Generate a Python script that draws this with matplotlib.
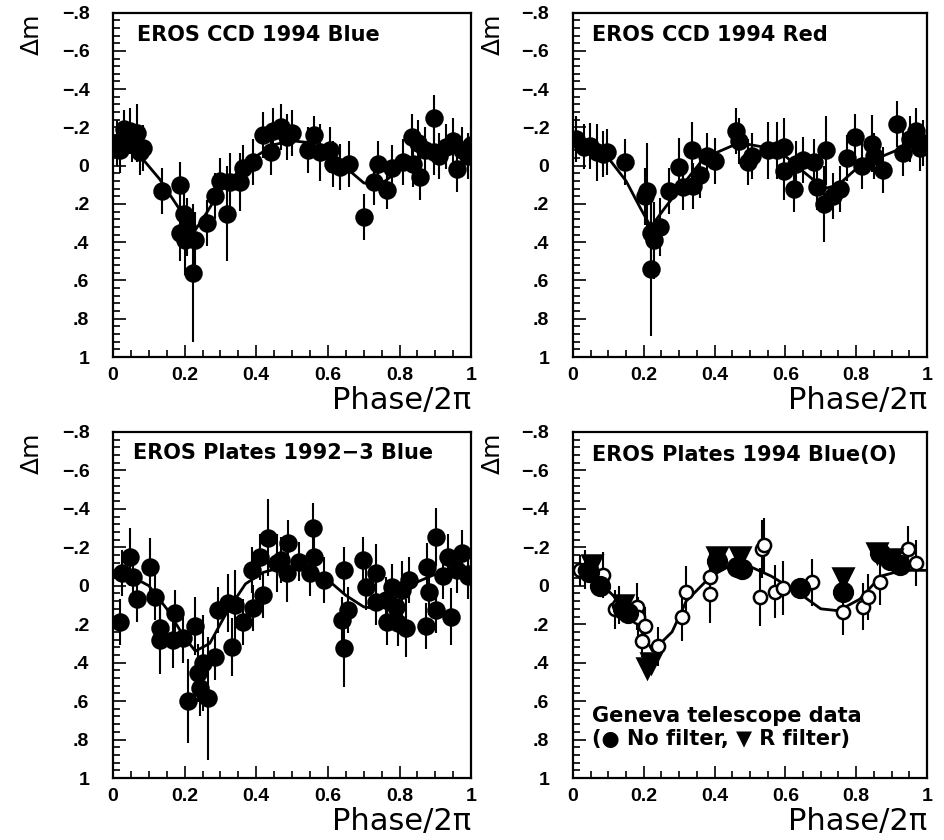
import matplotlib
matplotlib.use("Agg")
import matplotlib.pyplot as plt
from matplotlib.ticker import MultipleLocator, FixedLocator, FixedFormatter

# EROS CCD 1994 Blue: phase, delta-mag, error
ccd_blue_phase = [0.01, 0.02, 0.03, 0.047, 0.053, 0.067, 0.075, 0.085, 0.136, 0.187,
                  0.187, 0.197, 0.206, 0.20, 0.23, 0.224, 0.262, 0.285, 0.318, 0.30,
                  0.327, 0.355, 0.364, 0.392, 0.42, 0.44, 0.447, 0.47, 0.485, 0.50,
                  0.545, 0.56, 0.578, 0.606, 0.615, 0.634, 0.66, 0.70, 0.73, 0.74,
                  0.765, 0.78, 0.81, 0.835, 0.852, 0.838, 0.857, 0.87, 0.895, 0.895,
                  0.91, 0.93, 0.95, 0.96, 0.975, 0.99, 1.0]
ccd_blue_dm = [-0.12, -0.08, -0.19, -0.18, -0.12, -0.17, -0.07, -0.09, 0.13, 0.10,
               0.35, 0.25, 0.32, 0.39, 0.39, 0.56, 0.30, 0.16, 0.25, 0.08,
               0.085, 0.085, 0.01, -0.02, -0.16, -0.07, -0.18, -0.20, -0.15, -0.17,
               -0.08, -0.16, -0.07, -0.08, -0.01, 0.005, -0.01, 0.27, 0.085, -0.01,
               0.125, 0.01, -0.02, -0.15, -0.12, -0.01, 0.06, -0.08, -0.25, -0.07,
               -0.05, -0.10, -0.13, 0.02, -0.08, -0.05, -0.11]
ccd_blue_err = [0.12, 0.12, 0.10, 0.12, 0.10, 0.15, 0.12, 0.12, 0.12, 0.12,
                0.15, 0.15, 0.15, 0.18, 0.15, 0.36, 0.12, 0.12, 0.25, 0.12,
                0.15, 0.15, 0.12, 0.12, 0.12, 0.12, 0.12, 0.12, 0.12, 0.12,
                0.12, 0.10, 0.15, 0.12, 0.12, 0.12, 0.12, 0.12, 0.12, 0.12,
                0.10, 0.12, 0.12, 0.12, 0.12, 0.12, 0.12, 0.12, 0.12, 0.12,
                0.12, 0.12, 0.12, 0.12, 0.12, 0.12, 0.12]
ccd_blue_fit_phase = [0.0, 0.05, 0.085, 0.13, 0.19, 0.225, 0.26, 0.30, 0.35, 0.40, 0.45, 0.50,
                      0.55, 0.60, 0.65, 0.70, 0.73, 0.76, 0.80, 0.85, 0.90, 0.95, 1.0]
ccd_blue_fit_dm = [-0.10, -0.07, -0.03, 0.07, 0.24, 0.35, 0.25, 0.13, 0.03, -0.05, -0.11, -0.13,
                   -0.12, -0.06, 0.01, 0.09, 0.10, 0.08, 0.02, -0.04, -0.08, -0.10, -0.11]

# EROS CCD 1994 Red
ccd_red_phase = [0.01, 0.03, 0.048, 0.067, 0.085, 0.095, 0.146, 0.203, 0.21, 0.22,
                 0.23, 0.245, 0.22, 0.27, 0.30, 0.31, 0.335, 0.34, 0.36, 0.38,
                 0.40, 0.46, 0.47, 0.495, 0.505, 0.55, 0.575, 0.595, 0.595, 0.625,
                 0.63, 0.65, 0.68, 0.69, 0.716, 0.71, 0.735, 0.754, 0.773, 0.797,
                 0.816, 0.845, 0.85, 0.876, 0.915, 0.933, 0.952, 0.97, 0.98, 0.99]
ccd_red_dm = [-0.14, -0.10, -0.105, -0.07, -0.06, -0.07, -0.02, 0.16, 0.13, 0.35,
              0.39, 0.32, 0.54, 0.13, 0.005, 0.11, -0.08, 0.105, 0.05, -0.05,
              -0.025, -0.18, -0.13, -0.02, -0.05, -0.08, -0.08, -0.10, 0.03, 0.12,
              -0.01, -0.03, -0.02, 0.11, -0.08, 0.20, 0.16, 0.12, -0.04, -0.15,
              0.0, -0.115, -0.05, 0.025, -0.22, -0.065, -0.14, -0.18, -0.09, -0.12]
ccd_red_err = [0.12, 0.12, 0.12, 0.15, 0.12, 0.12, 0.12, 0.15, 0.25, 0.18,
               0.20, 0.15, 0.35, 0.12, 0.15, 0.12, 0.15, 0.12, 0.12, 0.12,
               0.12, 0.12, 0.12, 0.12, 0.12, 0.15, 0.15, 0.15, 0.15, 0.12,
               0.12, 0.12, 0.12, 0.12, 0.18, 0.20, 0.12, 0.12, 0.12, 0.12,
               0.12, 0.15, 0.12, 0.12, 0.12, 0.12, 0.12, 0.12, 0.12, 0.12]
ccd_red_fit_phase = [0.0, 0.05, 0.10, 0.15, 0.19, 0.22, 0.26, 0.31, 0.37, 0.42, 0.47, 0.53,
                     0.60, 0.65, 0.71, 0.75, 0.81, 0.875, 0.94, 1.0]
ccd_red_fit_dm = [-0.12, -0.09, -0.04, 0.08, 0.22, 0.32, 0.22, 0.10, -0.04, -0.08, -0.12, -0.10,
                  -0.05, 0.03, 0.12, 0.10, 0.0, -0.05, -0.10, -0.13]

# EROS Plates 1992-3 Blue
plates_old_phase = [0.02, 0.025, 0.047, 0.056, 0.066, 0.103, 0.117, 0.131, 0.131, 0.168,
                    0.173, 0.196, 0.21, 0.229, 0.237, 0.242, 0.251, 0.265, 0.284, 0.293,
                    0.321, 0.331, 0.34, 0.363, 0.387, 0.39, 0.41, 0.418, 0.432, 0.457,
                    0.47, 0.485, 0.488, 0.52, 0.549, 0.557, 0.562, 0.59, 0.638, 0.646,
                    0.646, 0.655, 0.697, 0.707, 0.735, 0.735, 0.763, 0.766, 0.78, 0.79,
                    0.795, 0.808, 0.818, 0.827, 0.874, 0.877, 0.883, 0.902, 0.902, 0.92,
                    0.935, 0.944, 0.96, 0.975, 0.99]
plates_old_dm = [0.19, -0.066, -0.15, -0.045, 0.07, -0.10, 0.06, 0.22, 0.28, 0.28,
                 0.14, 0.27, 0.60, 0.21, 0.455, 0.53, 0.40, 0.585, 0.37, 0.126,
                 0.09, 0.32, 0.10, 0.19, -0.08, 0.117, -0.15, 0.05, -0.25, -0.12,
                 -0.135, -0.066, -0.22, -0.125, -0.066, -0.30, -0.15, -0.03, 0.18, -0.08,
                 0.325, 0.126, -0.135, 0.006, -0.066, 0.085, 0.075, 0.19, 0.006, 0.11,
                 0.195, 0.022, 0.22, -0.03, 0.21, -0.10, 0.03, -0.255, 0.125, -0.05,
                 -0.15, 0.16, -0.08, -0.17, -0.05]
plates_old_err = [0.12, 0.12, 0.15, 0.12, 0.12, 0.15, 0.12, 0.12, 0.18, 0.15,
                  0.12, 0.13, 0.22, 0.15, 0.15, 0.15, 0.25, 0.32, 0.12, 0.12,
                  0.15, 0.15, 0.18, 0.12, 0.12, 0.12, 0.12, 0.12, 0.20, 0.15,
                  0.12, 0.15, 0.12, 0.10, 0.12, 0.13, 0.12, 0.12, 0.12, 0.12,
                  0.20, 0.12, 0.12, 0.12, 0.15, 0.12, 0.12, 0.12, 0.12, 0.12,
                  0.12, 0.15, 0.15, 0.12, 0.12, 0.12, 0.12, 0.15, 0.12, 0.12,
                  0.12, 0.15, 0.12, 0.12, 0.12]
plates_old_fit_phase = [0.0, 0.05, 0.10, 0.15, 0.20, 0.23, 0.27, 0.32, 0.37, 0.42, 0.48,
                        0.55, 0.60, 0.65, 0.70, 0.74, 0.79, 0.85, 0.90, 0.95, 1.0]
plates_old_fit_dm = [-0.06, -0.05, 0.0, 0.12, 0.27, 0.34, 0.30, 0.13, -0.01, -0.07, -0.10,
                     -0.09, -0.03, 0.05, 0.11, 0.12, 0.06, -0.02, -0.06, -0.09, -0.10]

# EROS Plates 1994 Blue (open) and Geneva telescope (filled)
plates_new_phase = [0.02, 0.034, 0.085, 0.119, 0.13, 0.18, 0.184, 0.195, 0.203, 0.24,
                    0.307, 0.32, 0.387, 0.387, 0.528, 0.534, 0.54, 0.57, 0.593, 0.675,
                    0.763, 0.82, 0.833, 0.867, 0.946, 0.97]
plates_new_dm = [-0.08, -0.084, -0.058, 0.123, 0.10, 0.108, 0.16, 0.29, 0.21, 0.315,
                 0.165, 0.035, 0.045, -0.048, 0.06, -0.19, -0.21, 0.03, 0.01, -0.017,
                 0.134, 0.108, 0.06, -0.022, -0.19, -0.12]
plates_new_err = [0.08, 0.10, 0.12, 0.10, 0.10, 0.12, 0.10, 0.08, 0.10, 0.10,
                  0.12, 0.14, 0.15, 0.14, 0.15, 0.15, 0.14, 0.14, 0.14, 0.12,
                  0.12, 0.12, 0.12, 0.12, 0.12, 0.12]
geneva_nf_phase = [0.045, 0.076, 0.14, 0.155, 0.407, 0.463, 0.477, 0.64, 0.763, 0.867, 0.895, 0.923]
geneva_nf_dm = [-0.07, 0.0, 0.12, 0.14, -0.13, -0.10, -0.085, 0.01, 0.03, -0.17, -0.135, -0.11]
geneva_nf_err = [0.05, 0.05, 0.05, 0.05, 0.05, 0.05, 0.05, 0.04, 0.04, 0.05, 0.05, 0.05]
geneva_r_phase = [0.053, 0.14, 0.21, 0.22, 0.407, 0.472, 0.763, 0.86, 0.90]
geneva_r_dm = [-0.11, 0.10, 0.43, 0.40, -0.15, -0.15, -0.04, -0.17, -0.14]
geneva_r_err = [0.04, 0.04, 0.05, 0.05, 0.05, 0.05, 0.04, 0.05, 0.05]
plates_new_fit_phase = [0.0, 0.05, 0.085, 0.13, 0.18, 0.225, 0.28, 0.32, 0.39, 0.44, 0.50,
                        0.56, 0.64, 0.70, 0.75, 0.81, 0.87, 0.93, 1.0]
plates_new_fit_dm = [-0.09, -0.06, 0.0, 0.08, 0.19, 0.34, 0.24, 0.08, -0.05, -0.10, -0.10,
                     -0.05, 0.04, 0.12, 0.13, 0.07, -0.05, -0.08, -0.08]

y_ticks = [-0.8, -0.6, -0.4, -0.2, 0.0, 0.2, 0.4, 0.6, 0.8, 1.0]
y_tick_labels = ["\u2212.8", "\u2212.6", "\u2212.4", "\u2212.2", "0", ".2", ".4", ".6", ".8", "1"]
x_ticks = [0.0, 0.2, 0.4, 0.6, 0.8, 1.0]
x_tick_labels = ["0", "0.2", "0.4", "0.6", "0.8", "1"]

TICK_FONT = dict(family="Liberation Sans", weight="bold", size=14)
TEXT_FONT = dict(family="DejaVu Sans", weight="bold", size=15)


def setup_axis(axis):
    axis.set_xlim(0, 1)
    axis.set_ylim(1, -0.8)
    axis.xaxis.set_major_locator(FixedLocator(x_ticks))
    axis.xaxis.set_major_formatter(FixedFormatter(x_tick_labels))
    axis.xaxis.set_minor_locator(MultipleLocator(0.05))
    axis.yaxis.set_major_locator(FixedLocator(y_ticks))
    axis.yaxis.set_major_formatter(FixedFormatter(y_tick_labels))
    axis.yaxis.set_minor_locator(MultipleLocator(0.04))
    axis.tick_params(which="both", direction="in", top=False, right=False, width=1.2)
    axis.tick_params(which="major", length=9)
    axis.tick_params(which="minor", length=5)
    axis.tick_params(axis="y", which="major", pad=17)
    axis.tick_params(axis="x", which="major", pad=7)
    for lab in axis.get_xticklabels() + axis.get_yticklabels():
        lab.set_fontproperties(TICK_FONT)
    for sp in axis.spines.values():
        sp.set_linewidth(1.6)
    axis.text(1.0, -0.125, "Phase/2\u03c0", transform=axis.transAxes,
              ha="right", va="center", fontsize=22, family="DejaVu Sans")
    axis.text(-0.226, 0.938, "\u0394m", transform=axis.transAxes, rotation=90,
              ha="center", va="center", fontsize=18, family="DejaVu Sans")
    return axis


def plot_points(axis, phase, dm, err, marker="o", ms=11.5, mfc="black"):
    axis.errorbar(phase, dm, yerr=err, fmt=marker, ms=ms, mfc=mfc, mec="black",
                  mew=1.8, color="black", elinewidth=1.5, capsize=0, zorder=3)


def plot_fit(axis, phase, dm):
    axis.plot(phase, dm, color="black", linewidth=2.0, zorder=2)


if __name__ == "__main__":
    fig = plt.figure(figsize=(9.45, 8.4), dpi=100)
    w, h = 0.379, 0.41
    ax_tl = fig.add_axes([0.1196, 0.575, w, h])
    ax_tr = fig.add_axes([0.6063, 0.575, 0.3746, h])
    ax_bl = fig.add_axes([0.1196, 0.0738, w, 0.412])
    ax_br = fig.add_axes([0.6063, 0.0738, 0.3746, 0.412])

    for ax in (ax_tl, ax_tr, ax_bl, ax_br):
        setup_axis(ax)

    plot_points(ax_tl, ccd_blue_phase, ccd_blue_dm, ccd_blue_err)
    plot_fit(ax_tl, ccd_blue_fit_phase, ccd_blue_fit_dm)
    ax_tl.text(0.067, 0.935, "EROS CCD 1994 Blue", transform=ax_tl.transAxes,
               ha="left", va="center", **TEXT_FONT)

    plot_points(ax_tr, ccd_red_phase, ccd_red_dm, ccd_red_err)
    plot_fit(ax_tr, ccd_red_fit_phase, ccd_red_fit_dm)
    ax_tr.text(0.054, 0.935, "EROS CCD 1994 Red", transform=ax_tr.transAxes,
               ha="left", va="center", **TEXT_FONT)

    plot_points(ax_bl, plates_old_phase, plates_old_dm, plates_old_err)
    plot_fit(ax_bl, plates_old_fit_phase, plates_old_fit_dm)
    ax_bl.text(0.056, 0.938, "EROS Plates 1992\u22123 Blue", transform=ax_bl.transAxes,
               ha="left", va="center", **TEXT_FONT)

    plot_points(ax_br, plates_new_phase, plates_new_dm, plates_new_err, ms=9.5, mfc="white")
    plot_points(ax_br, geneva_nf_phase, geneva_nf_dm, geneva_nf_err, ms=13.5)
    plot_points(ax_br, geneva_r_phase, geneva_r_dm, geneva_r_err, marker="v", ms=14)
    plot_fit(ax_br, plates_new_fit_phase, plates_new_fit_dm)
    ax_br.text(0.054, 0.934, "EROS Plates 1994 Blue(O)", transform=ax_br.transAxes,
               ha="left", va="center", **TEXT_FONT)
    ax_br.text(0.054, 0.179, "Geneva telescope data", transform=ax_br.transAxes,
               ha="left", va="center", **TEXT_FONT)
    ax_br.text(0.054, 0.112, "(\u25cf No filter, \u25bc R filter)", transform=ax_br.transAxes,
               ha="left", va="center", **TEXT_FONT)

    fig.savefig("out.png", dpi=100)
